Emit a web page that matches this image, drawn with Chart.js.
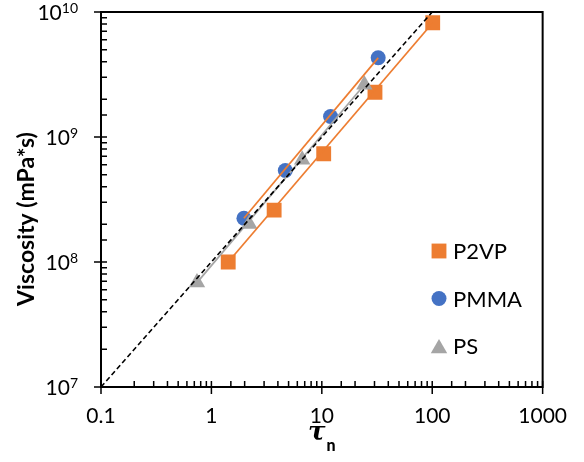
<!DOCTYPE html>
<html>
<head>
<meta charset="utf-8">
<script src="https://cdn.jsdelivr.net/npm/chart.js@4/dist/chart.umd.min.js"></script>
<style>
  body { margin: 0; background: #fff; }
</style>
</head>
<body>
<canvas id="viscChart" width="584" height="462"></canvas>
<script>
// Relaxation time tau_n (x) vs melt viscosity in mPa*s (y)
const p2vpTau = [1.42, 3.7, 10.4, 30.3, 101];
const p2vpVisc = [1.0e8, 2.6e8, 7.35e8, 2.28e9, 8.2e9];
const pmmaTau = [1.97, 4.67, 12.0, 32.4];
const pmmaVisc = [2.24e8, 5.4e8, 1.46e9, 4.3e9];
const psTau = [0.74, 2.2, 6.64, 24.3];
const psVisc = [6.84e7, 2.01e8, 6.58e8, 2.62e9];

// Fit lines, given by their end points
const p2vpFitTau = [1.42, 101];
const p2vpFitVisc = [1.0e8, 8.2e9];
const pmmaFitTau = [1.97, 32.4];
const pmmaFitVisc = [2.24e8, 4.3e9];
const psFitTau = [0.74, 24.3];
const psFitVisc = [6.84e7, 2.62e9];

// Slope-one reference line
const refTau = [0.1, 100];
const refVisc = [1e7, 1e10];

const xTickLabels = [0.1, 1, 10, 100, 1000];
const yTickLabels = [1e7, 1e8, 1e9, 1e10];

const ORANGE = "#ED7D31";
const BLUE = "#4472C4";
const GRAY = "#A5A5A5";
const FONT = "Lato";

function toPoints(xs, ys) {
    return xs.map((x, i) => ({ x: x, y: ys[i] }));
}

function isDecade(v) {
    const e = Math.log10(v);
    return Math.abs(e - Math.round(e)) < 1e-6;
}

// lines keep order 0 so they are painted over the markers
function fitLine(xs, ys, color, dash) {
    return {
        data: toPoints(xs, ys),
        showLine: true,
        borderColor: color,
        borderWidth: dash ? 1.6 : 1.75,
        borderDash: dash || [],
        pointRadius: 0,
        fill: false,
        order: 0,
        inLegend: false
    };
}

// Frame, tick marks, y labels with exponents, axis titles and legend
const axisDecor = {
    id: "axisDecor",
    afterDatasetsDraw(chart) {
        const { ctx, chartArea: a, scales } = chart;
        const sx = scales.x, sy = scales.y;
        ctx.save();

        // tick marks: minor inside, major crossing the axis
        ctx.strokeStyle = "#000";
        ctx.lineWidth = 1.5;
        ctx.beginPath();
        sx.ticks.forEach(t => {
            const px = sx.getPixelForValue(t.value);
            const major = isDecade(t.value);
            ctx.moveTo(px, a.bottom + (major ? 7 : 0));
            ctx.lineTo(px, a.bottom - 6);
        });
        sy.ticks.forEach(t => {
            const py = sy.getPixelForValue(t.value);
            const major = isDecade(t.value);
            ctx.moveTo(a.left - (major ? 7 : 0), py);
            ctx.lineTo(a.left + 6, py);
        });
        ctx.stroke();

        ctx.lineWidth = 2;
        ctx.strokeRect(a.left, a.top, a.right - a.left, a.bottom - a.top);

        // y tick labels as 10 with a raised exponent
        ctx.fillStyle = "#000";
        ctx.textBaseline = "alphabetic";
        ctx.textAlign = "left";
        yTickLabels.forEach(v => {
            const py = sy.getPixelForValue(v);
            const exp = String(Math.round(Math.log10(v)));
            ctx.font = "14px " + FONT;
            const ew = ctx.measureText(exp).width;
            ctx.font = "21px " + FONT;
            const bw = ctx.measureText("10").width;
            const right = a.left - 23;
            ctx.fillText("10", right - ew - bw, py + 7.5);
            ctx.font = "14px " + FONT;
            ctx.fillText(exp, right - ew, py + 0.5);
        });

        // y axis title
        ctx.save();
        ctx.translate(27, 219);
        ctx.rotate(-Math.PI / 2);
        ctx.textAlign = "center";
        ctx.textBaseline = "middle";
        ctx.font = "bold 23px " + FONT;
        ctx.fillText("Viscosity (mPa*s)", 0, 0);
        ctx.restore();

        // x axis title: tau with subscript n
        ctx.font = "bold italic 26px 'DejaVu Serif'";
        const tw = ctx.measureText("τ").width;
        ctx.font = "900 16px " + FONT;
        const nw = ctx.measureText("n").width;
        const cx = (a.left + a.right) / 2;
        const x0 = cx - (tw + nw + 1) / 2;
        ctx.textAlign = "left";
        ctx.font = "bold italic 26px 'DejaVu Serif'";
        ctx.fillText("τ", x0, 440);
        ctx.font = "900 16px " + FONT;
        ctx.fillText("n", x0 + tw + 1, 451);

        // legend inside the plot, listed in series order
        const items = chart.data.datasets.filter(d => d.inLegend)
            .sort((p, q) => p.legendIndex - q.legendIndex);
        const lx = 439, ly = 251, step = 47.5;
        items.forEach((d, i) => {
            const y = ly + i * step;
            ctx.fillStyle = d.backgroundColor;
            ctx.strokeStyle = d.backgroundColor;
            Chart.helpers.drawPoint(ctx, {
                pointStyle: d.pointStyle,
                radius: d.pointRadius,
                borderWidth: 0,
                rotation: 0
            }, lx, y + (d.pointStyle === "triangle" ? 2.5 : 0));
            ctx.fillStyle = "#000";
            ctx.font = "22px " + FONT;
            ctx.textAlign = "left";
            ctx.textBaseline = "middle";
            ctx.fillText(d.label, lx + 14, y + 1);
        });

        ctx.restore();
    }
};

const ctx = document.getElementById("viscChart").getContext("2d");
new Chart(ctx, {
    type: "scatter",
    data: {
        datasets: [
            fitLine(refTau, refVisc, "#000", [5, 3]),
            fitLine(p2vpFitTau, p2vpFitVisc, ORANGE),
            fitLine(pmmaFitTau, pmmaFitVisc, ORANGE),
            fitLine(psFitTau, psFitVisc, GRAY),
            {
                label: "P2VP",
                data: toPoints(p2vpTau, p2vpVisc),
                pointStyle: "rect",
                pointRadius: 10.5,
                backgroundColor: ORANGE,
                borderWidth: 0,
                order: 3,
                inLegend: true,
                legendIndex: 0
            },
            {
                label: "PMMA",
                data: toPoints(pmmaTau, pmmaVisc),
                pointStyle: "circle",
                pointRadius: 7.5,
                backgroundColor: BLUE,
                borderWidth: 0,
                order: 2,
                inLegend: true,
                legendIndex: 1
            },
            {
                label: "PS",
                data: toPoints(psTau, psVisc),
                pointStyle: "triangle",
                pointRadius: 9.5,
                backgroundColor: GRAY,
                borderWidth: 0,
                order: 1,
                inLegend: true,
                legendIndex: 2
            }
        ]
    },
    options: {
        responsive: false,
        animation: false,
        layout: { padding: { left: 0, right: 38, top: 12, bottom: 0 } },
        plugins: {
            legend: { display: false },
            tooltip: { enabled: false }
        },
        scales: {
            x: {
                type: "logarithmic",
                min: 0.1,
                max: 1000,
                grid: { display: false, drawTicks: false },
                border: { display: false },
                afterFit: s => { s.height = 75; },
                ticks: {
                    autoSkip: false,
                    maxRotation: 0,
                    padding: 17,
                    color: "#000",
                    font: { family: FONT, size: 21 },
                    callback: v => (xTickLabels.some(t => Math.abs(t - v) / t < 1e-6) ? String(v) : "")
                }
            },
            y: {
                type: "logarithmic",
                min: 1e7,
                max: 1e10,
                grid: { display: false, drawTicks: false },
                border: { display: false },
                afterFit: s => { s.width = 101; },
                ticks: { display: false, autoSkip: false }
            }
        }
    },
    plugins: [axisDecor]
});
</script>
</body>
</html>
